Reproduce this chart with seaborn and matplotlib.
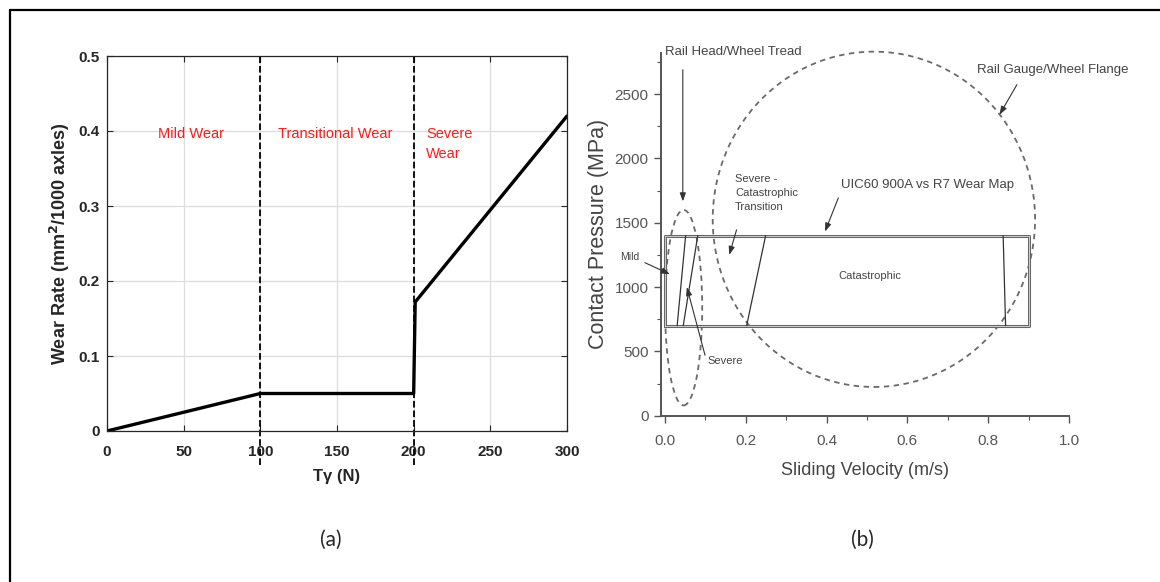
import matplotlib
matplotlib.use("Agg")
import matplotlib.pyplot as plt
from matplotlib.lines import Line2D
from matplotlib.patches import Ellipse
from matplotlib.ticker import MultipleLocator
import pandas as pd
import seaborn as sns

# (a) wear rate vs T-gamma
t_gamma = [0, 100, 200, 201, 300]
wear_rate = [0.0, 0.05, 0.05, 0.172, 0.42]
regime_bounds = [100, 200]
regime_labels = ["Mild Wear", "Transitional Wear", "Severe\nWear"]
regime_label_x = [55, 149, 208]

# (b) UIC60 900A vs R7 wear map
map_velocity = [0.0, 0.9, 0.9, 0.0, 0.0]
map_pressure = [700, 700, 1400, 1400, 700]
boundary_bottom = [0.03, 0.045, 0.202, 0.843]
boundary_top = [0.051, 0.081, 0.249, 0.837]
tread_ellipse = (0.046, 840, 0.092, 1520)
flange_ellipse = (0.517, 1527, 0.798, 2607)

sns.set_style("ticks")
plt.rcParams["font.family"] = ["Liberation Sans", "DejaVu Sans"]

fig = plt.figure(figsize=(11.6, 5.82), dpi=100)

# border of the figure frame
fig.add_artist(Line2D([10 / 1160, 10 / 1160], [0, 1 - 10 / 582], color="black", lw=1.6))
fig.add_artist(Line2D([10 / 1160, 1], [1 - 10 / 582, 1 - 10 / 582], color="black", lw=1.6))

# ---------- panel (a) ----------
ax1 = fig.add_axes([107 / 1160, 1 - 431 / 582, 460 / 1160, 375 / 582])
df_a = pd.DataFrame({"t": t_gamma, "w": wear_rate})
sns.lineplot(data=df_a, x="t", y="w", ax=ax1, color="black", lw=2.4, sort=False, estimator=None)
ax1.set_xlim(0, 300)
ax1.set_ylim(0, 0.5)
ax1.set_xticks([0, 50, 100, 150, 200, 250, 300])
ax1.set_yticks([0, 0.1, 0.2, 0.3, 0.4, 0.5])
ax1.set_yticklabels(["0", "0.1", "0.2", "0.3", "0.4", "0.5"])
ax1.grid(True, color="#dddddd", lw=0.9)
ax1.tick_params(direction="in", top=True, right=True, length=4, width=0.8,
                labelsize=11, colors="#262626", pad=5)
ax1.tick_params(axis="x", pad=10)
for lab in ax1.get_xticklabels() + ax1.get_yticklabels():
    lab.set_fontweight("bold")
for s in ax1.spines.values():
    s.set_color("#262626")
    s.set_linewidth(0.9)
for xb in regime_bounds:
    ax1.plot([xb, xb], [-0.045, 0.5], ls="--", color="black", lw=1.3, clip_on=False)
for lab, xl in zip(regime_labels, regime_label_x):
    ha = "left" if "\n" in lab else "center"
    ax1.text(xl, 0.405, lab, color="#ff1a1a", fontsize=10.5, ha=ha, va="top",
             linespacing=1.55)
ax1.set_xlabel("T\u03b3 (N)", fontsize=12, fontweight="bold", color="#262626", labelpad=7)
ax1.set_ylabel("Wear Rate (mm$^\\mathbf{2}$/1000 axles)", fontsize=13, fontweight="bold",
               color="#262626", labelpad=5)

# ---------- panel (b) ----------
grey = "#555555"
ax2 = fig.add_axes([661 / 1160, 1 - 415.7 / 582, 408 / 1160, 362.7 / 582])
df_b = pd.DataFrame({"v": map_velocity, "p": map_pressure})
sns.lineplot(data=df_b, x="v", y="p", ax=ax2, color="#666666", lw=2.2, sort=False, estimator=None)
ax2.plot(map_velocity, map_pressure, color="#dddddd", lw=0.6)
for xb, xt in zip(boundary_bottom, boundary_top):
    ax2.plot([xb, xt], [700, 1400], color="#333333", lw=0.9)
for cx, cy, w, h in [tread_ellipse, flange_ellipse]:
    ax2.add_patch(Ellipse((cx, cy), w, h, fill=False, ls=(0, (3, 2.5)), lw=1.3,
                          edgecolor="#6a6a6a", clip_on=False))
ax2.set_xlim(-0.01, 1.0)
ax2.set_ylim(0, 2820)
ax2.set_xticks([0.0, 0.2, 0.4, 0.6, 0.8, 1.0])
ax2.set_xticklabels(["0.0", "0.2", "0.4", "0.6", "0.8", "1.0"])
ax2.set_yticks([0, 500, 1000, 1500, 2000, 2500])
ax2.xaxis.set_minor_locator(MultipleLocator(0.1))
ax2.yaxis.set_minor_locator(MultipleLocator(250))
ax2.tick_params(which="major", direction="out", length=5, width=1, colors=grey,
                labelsize=11, pad=4)
ax2.tick_params(axis="x", which="major", pad=8)
ax2.tick_params(which="minor", direction="out", length=3, width=0.8, colors=grey)
sns.despine(ax=ax2)
for s in ["left", "bottom"]:
    ax2.spines[s].set_color(grey)
    ax2.spines[s].set_linewidth(1.4)
ax2.set_xlabel("Sliding Velocity (m/s)", fontsize=13, color="#444444", labelpad=10)
ax2.set_ylabel("Contact Pressure (MPa)", fontsize=15.5, color="#444444", labelpad=4)

arrow = dict(arrowstyle="-|>,head_length=0.5,head_width=0.18", color="#333333", lw=0.8,
             shrinkA=0, shrinkB=0)
txt = dict(color="#444444", annotation_clip=False)
ax2.annotate("", xy=(0.044, 1666), xytext=(0.044, 2690), arrowprops=arrow, **txt)
ax2.text(0.0, 2825, "Rail Head/Wheel Tread", fontsize=9.5, color="#444444", va="center")
ax2.annotate("", xy=(0.828, 2340), xytext=(0.871, 2574), arrowprops=arrow, **txt)
ax2.text(0.772, 2690, "Rail Gauge/Wheel Flange", fontsize=9.5, color="#444444", va="center")
ax2.annotate("", xy=(0.159, 1250), xytext=(0.177, 1445), arrowprops=arrow, **txt)
ax2.text(0.173, 1732, "Severe -\nCatastrophic\nTransition", fontsize=8, color="#444444",
         va="center", linespacing=1.5)
ax2.annotate("", xy=(0.396, 1432), xytext=(0.429, 1693), arrowprops=arrow, **txt)
ax2.text(0.435, 1795, "UIC60 900A vs R7 Wear Map", fontsize=9.5, color="#444444", va="center")
ax2.annotate("", xy=(0.012, 1100), xytext=(-0.05, 1190), arrowprops=arrow, **txt)
ax2.text(-0.11, 1233, "Mild", fontsize=7.5, color="#444444", va="center")
ax2.annotate("", xy=(0.054, 1000), xytext=(0.099, 470), arrowprops=arrow, **txt)
ax2.text(0.104, 426, "Severe", fontsize=8, color="#444444", va="center")
ax2.text(0.507, 1087, "Catastrophic", fontsize=8, color="#444444", va="center", ha="center")

# panel captions
fig.text(331 / 1160, 1 - 540 / 582, "(a)", fontsize=15, ha="center", va="center",
         family=["Lato", "DejaVu Sans"])
fig.text(862 / 1160, 1 - 540 / 582, "(b)", fontsize=15, ha="center", va="center",
         family=["Lato", "DejaVu Sans"])

fig.savefig("out.png", dpi=100)
